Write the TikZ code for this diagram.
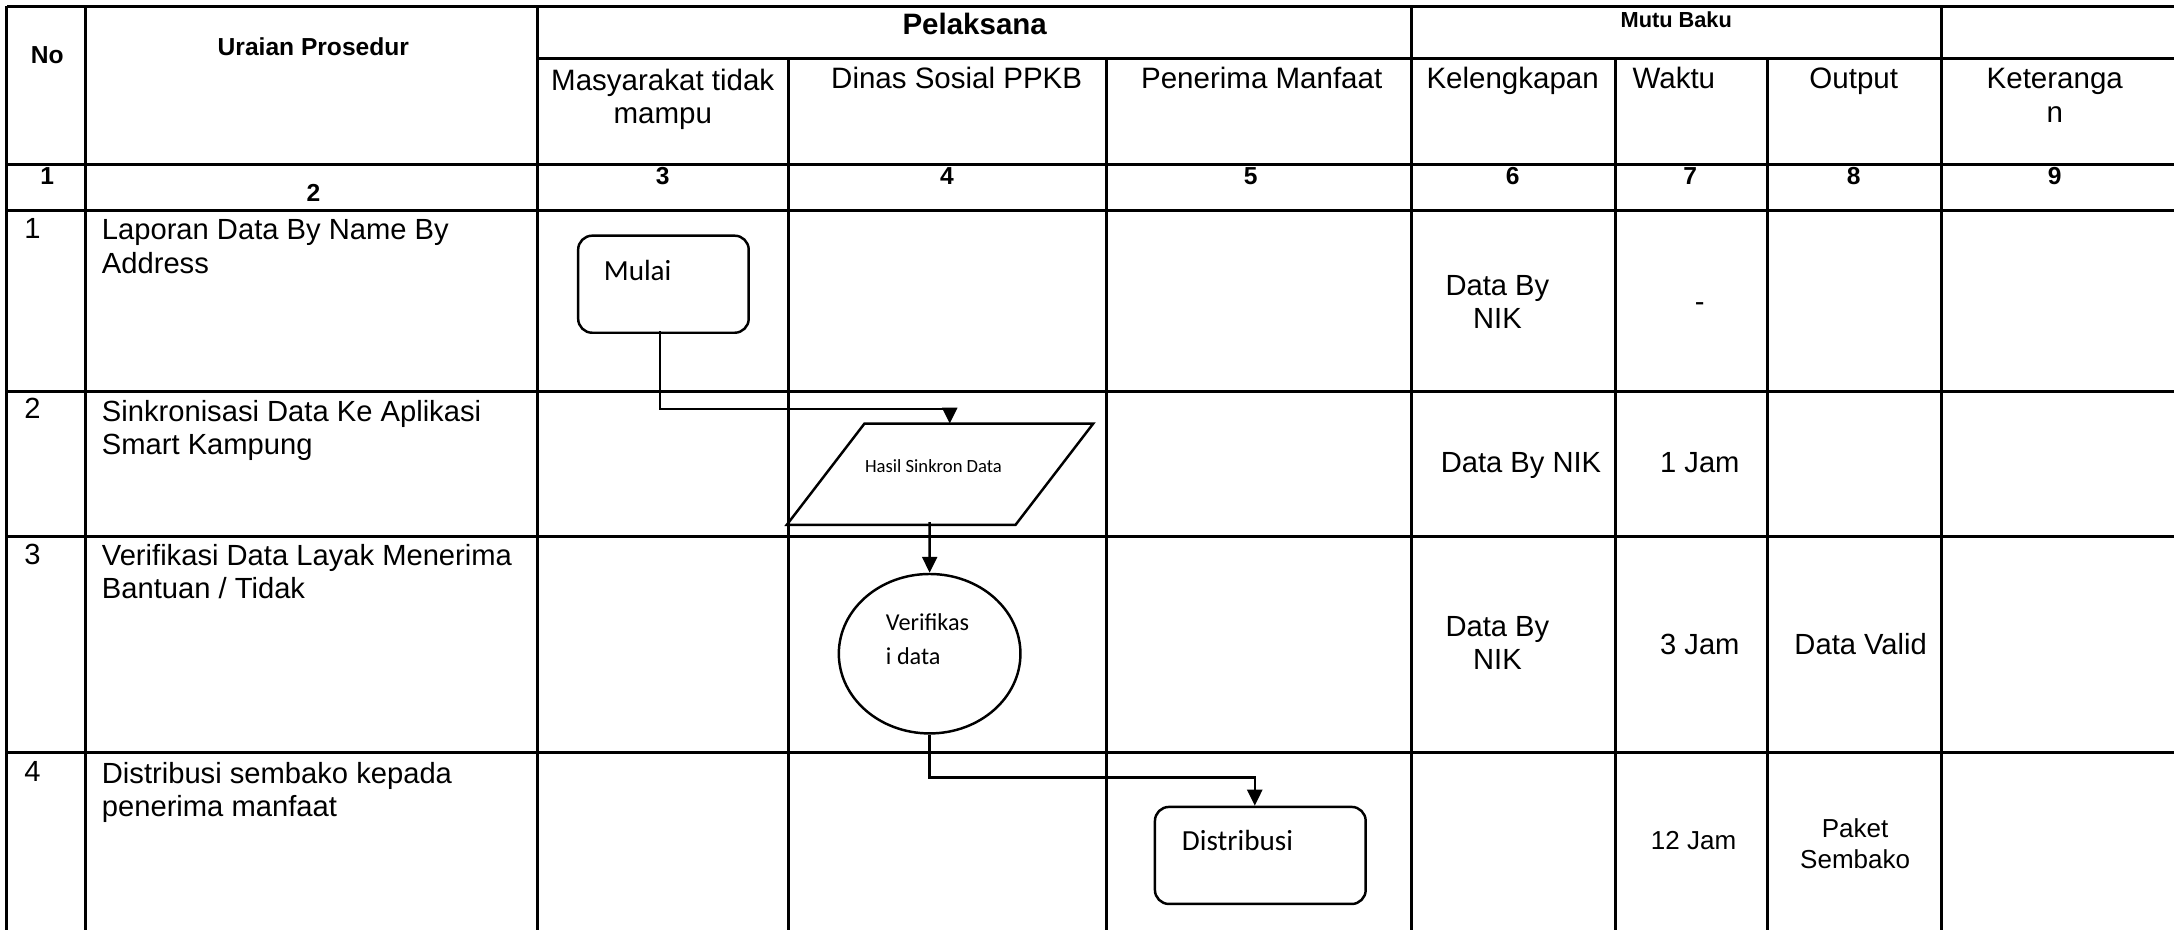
\documentclass[tikz,border=0pt]{standalone}
\usepackage{fontspec}
\setmainfont{Liberation Sans}
\newfontfamily\calibrifont{Carlito}
\usetikzlibrary{arrows.meta,calc,shapes.geometric}
\newdimen\ppx
\ppx=0.013865cm
\tikzset{
  grid/.style={line width=0.85pt},
  txt/.style={inner sep=0pt, font=\fontsize{8.3}{9.47}\selectfont},
  hdr/.style={inner sep=0pt, font=\fontsize{8.4}{9.47}\selectfont},
  small/.style={inner sep=0pt, font=\fontsize{7.4}{8.68}\selectfont},
  hbold/.style={inner sep=0pt, font=\fontsize{7}{8}\selectfont\bfseries},
  flowline/.style={line width=0.7pt},
  arr/.style={flowline, -{Triangle[length=0.16cm,width=0.15cm]}},
  startbox/.style={draw, flowline, rounded corners=0.14cm, inner sep=0pt},
  ftxt/.style={inner sep=0pt, font=\calibrifont\fontsize{8.3}{10}\selectfont},
}
\begin{document}
\begin{tikzpicture}[x=0.013865cm, y=-0.013865cm]
\useasboundingbox (0,0) rectangle (1568,670.75);
% ---------- grid ----------
\draw[grid] (5,4.5) -- (1568,4.5);
\draw[grid] (388,42.5) -- (1568,42.5);
\foreach \yy in {119,152,282.5,387,543}
  \draw[grid] (5,\yy) -- (1568,\yy);
\foreach \xx in {5,62,388,1018,1400}
  \draw[grid] (\xx,4.5) -- (\xx,670.75);
\foreach \xx in {569,798,1165,1275}
  \draw[grid] (\xx,42.5) -- (\xx,670.75);
% ---------- header ----------
\node[hbold, anchor=base] (hno) at (34,46) {No};
\node[hbold, anchor=base] (hur) at (226,40) {Uraian Prosedur};
\node[inner sep=0pt, font=\fontsize{8.4}{9.5}\selectfont\bfseries, anchor=base] (hpel) at (703,25) {Pelaksana};
\node[inner sep=0pt, font=\fontsize{6.2}{7}\selectfont\bfseries, anchor=base] (hmutu) at (1209,20) {Mutu Baku};
\node[hdr, anchor=north, align=center] (hmas) at (478,49) {Masyarakat tidak\\mampu};
\node[hdr, anchor=base] (hdin) at (690,64) {Dinas Sosial PPKB};
\node[hdr, anchor=base] (hpen) at (910,64) {Penerima Manfaat};
\node[hdr, anchor=base] (hkel) at (1091,64) {Kelengkapan};
\node[hdr, anchor=base west] (hwak) at (1177,64) {Waktu};
\node[hdr, anchor=base] (hout) at (1337,64) {Output};
\node[hdr, anchor=north, align=center] (hket) at (1482,49) {Keteranga\\n};
% ---------- number row ----------
\node[hbold, anchor=base] (n1) at (34,133) {1};
\node[hbold, anchor=base] (n2) at (226,145) {2};
\node[hbold, anchor=base] (n3) at (478,133) {3};
\node[hbold, anchor=base] (n4) at (683,133) {4};
\node[hbold, anchor=base] (n5) at (902,133) {5};
\node[hbold, anchor=base] (n6) at (1091,133) {6};
\node[hbold, anchor=base] (n7) at (1219,133) {7};
\node[hbold, anchor=base] (n8) at (1337,133) {8};
\node[hbold, anchor=base] (n9) at (1482,133) {9};
% ---------- rows: number and procedure ----------
\node[txt, anchor=base west] (r1n) at (17,172) {1};
\node[txt, anchor=base west] (r2n) at (17,302) {2};
\node[txt, anchor=base west] (r3n) at (17,407) {3};
\node[txt, anchor=base west] (r4n) at (17,564) {4};
\node[txt, anchor=north west, align=left] (r1t) at (73,158) {Laporan Data By Name By\\Address};
\node[txt, anchor=north west, align=left] (r2t) at (73,288) {Sinkronisasi Data Ke Aplikasi\\Smart Kampung};
\node[txt, anchor=north west, align=left] (r3t) at (73,392) {Verifikasi Data Layak Menerima\\Bantuan / Tidak};
\node[txt, anchor=north west, align=left] (r4t) at (73,549) {Distribusi sembako kepada\\penerima manfaat};
% ---------- mutu baku cells ----------
\node[txt, anchor=north, align=center] (k1) at (1080,198) {Data By\\NIK};
\node[txt, anchor=base] (w1) at (1226,225) {-};
\node[txt, anchor=base] (k2) at (1097,341) {Data By NIK};
\node[txt, anchor=base] (w2) at (1226,341) {1 Jam};
\node[txt, anchor=north, align=center] (k3) at (1080,444) {Data By\\NIK};
\node[txt, anchor=base] (w3) at (1226,472) {3 Jam};
\node[txt, anchor=base] (o3) at (1342,472) {Data Valid};
\node[small, anchor=base] (w4) at (1221.5,613) {12 Jam};
\node[small, anchor=north, align=center] (o4) at (1338,590) {Paket\\Sembako};
% ---------- flowchart ----------
\node[startbox, minimum width=123*\ppx, minimum height=70*\ppx] (mulai) at (478.5,205) {};
\node[ftxt, anchor=base west] (mulaitxt) at (435,202) {Mulai};
\node[inner sep=0pt, minimum width=220*\ppx, minimum height=72*\ppx] (sinkron) at (678,342) {};
\draw[flowline] (sinkron.south west) -- ++(165,0) -- (sinkron.north east) -- ++(-165,0) -- cycle;
\node[inner sep=0pt, font=\calibrifont\fontsize{5.3}{6}\selectfont, anchor=base] (sinkrontxt) at (673.3,340.5) {Hasil Sinkron Data};
\node[draw, flowline, ellipse, inner sep=0pt, minimum width=131*\ppx, minimum height=115*\ppx] (verif) at (670.5,471.5) {};
\node[inner sep=0pt, font=\calibrifont\fontsize{6.9}{9.86}\selectfont, anchor=north west, align=left] (veriftxt) at (638.5,442) {Verifikas\\i data};
\node[startbox, minimum width=152*\ppx, minimum height=70*\ppx] (distrib) at (909,617) {};
\node[ftxt, anchor=base west] (distribtxt) at (852,613.5) {Distribusi};
% ---------- connectors ----------
\draw[arr] ($(mulai.south)+(-2.5,-2)$) -- ++(0,56) -| ($(sinkron.north)+(7,0)$);
\draw[arr] ($(sinkron.south)+(-7.5,-2)$) -- (verif.north);
\draw[arr] (verif.south) -- ++(0,31) -| ($(distrib.north)+(-4,0)$);
\end{tikzpicture}
\end{document}
